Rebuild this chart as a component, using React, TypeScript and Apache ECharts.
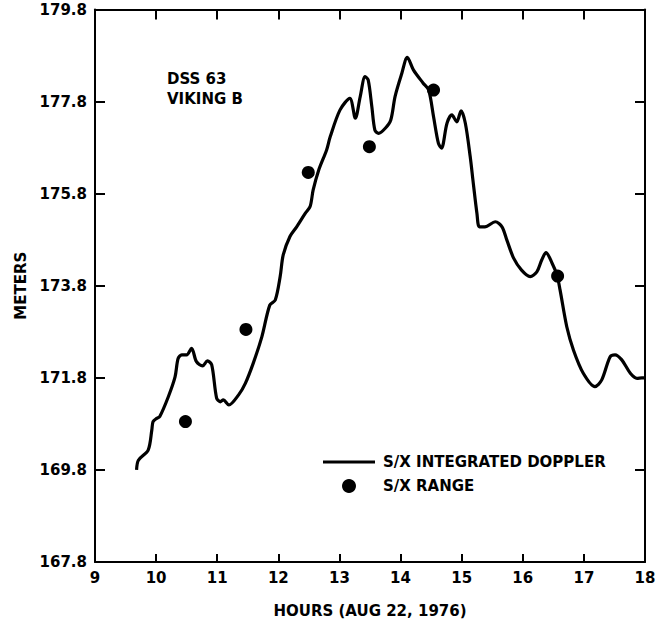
import React, { useEffect, useRef } from "react";
import * as echarts from "echarts";

const Y_BASE = 167.8;

const hourTicks = [9, 10, 11, 12, 13, 14, 15, 16, 17, 18];
const meterTicks = [167.8, 169.8, 171.8, 173.8, 175.8, 177.8, 179.8];

const dopplerHours = [
  9.68, 9.71, 9.87, 9.93, 9.95, 10.01, 10.06, 10.2, 10.31, 10.36, 10.42, 10.5, 10.58, 10.66, 10.76,
  10.84, 10.91, 10.99, 11.05, 11.1, 11.19, 11.35, 11.46, 11.59, 11.73, 11.86, 11.95, 12.03, 12.08,
  12.19, 12.3, 12.44, 12.52, 12.57, 12.66, 12.79, 12.85, 13.01, 13.17, 13.26, 13.34, 13.42, 13.47,
  13.53, 13.58, 13.64, 13.75, 13.84, 13.91, 14.02, 14.11, 14.21, 14.37, 14.46, 14.54, 14.62, 14.67,
  14.76, 14.84, 14.92, 14.99, 15.06, 15.14, 15.19, 15.25, 15.29, 15.38, 15.55, 15.66, 15.74, 15.85,
  15.98, 16.12, 16.23, 16.31, 16.38, 16.48, 16.56, 16.61, 16.72, 16.83, 16.99, 17.18, 17.29, 17.43,
  17.51, 17.62, 17.76, 17.87, 17.95, 18.0,
];

const dopplerMeters = [
  169.8, 170.01, 170.23, 170.67, 170.85, 170.92, 170.96, 171.39, 171.82, 172.22, 172.3, 172.3, 172.44,
  172.15, 172.06, 172.17, 172.08, 171.36, 171.28, 171.32, 171.21, 171.43, 171.68, 172.12, 172.69,
  173.38, 173.49, 174.0, 174.47, 174.87, 175.08, 175.37, 175.52, 175.88, 176.31, 176.75, 177.04,
  177.62, 177.87, 177.44, 177.91, 178.34, 178.27, 177.69, 177.18, 177.11, 177.22, 177.4, 177.91,
  178.41, 178.76, 178.49, 178.2, 178.05, 177.47, 176.89, 176.79, 177.33, 177.51, 177.36, 177.6,
  177.33, 176.6, 176.03, 175.37, 175.08, 175.08, 175.19, 175.08, 174.79, 174.4, 174.14, 174.0,
  174.1, 174.36, 174.52, 174.29, 174.03, 173.71, 172.91, 172.4, 171.9, 171.61, 171.75, 172.26,
  172.3, 172.19, 171.9, 171.79, 171.8, 171.8,
];

const rangeHours = [10.48, 11.47, 12.49, 13.49, 14.54, 16.57];
const rangeMeters = [170.85, 172.85, 176.26, 176.82, 178.05, 174.01];

const FONT = "DejaVu Sans";
const FW = "bold";
const FS = 15;

export default function App() {
  const ref = useRef<HTMLDivElement>(null);

  useEffect(() => {
    if (!ref.current) return;
    const chart = echarts.init(ref.current, null, { renderer: "svg" });

    const lineData = dopplerHours.map((h, i) => [h, dopplerMeters[i] - Y_BASE]);
    const dotData = rangeHours.map((h, i) => [h, rangeMeters[i] - Y_BASE]);

    const yMax = meterTicks[meterTicks.length - 1] - Y_BASE;

    const textBase = { fontFamily: FONT, fontSize: FS, fontWeight: FW, color: "#000" };

    const xCommon = {
      type: "value" as const,
      min: hourTicks[0],
      max: hourTicks[hourTicks.length - 1],
      interval: 1,
      splitLine: { show: false },
      axisLine: { show: true, onZero: false, lineStyle: { color: "#000", width: 2 } },
    };
    const yCommon = {
      type: "value" as const,
      min: 0,
      max: yMax,
      interval: 2,
      splitLine: { show: false },
      axisLine: { show: true, onZero: false, lineStyle: { color: "#000", width: 2 } },
    };

    chart.setOption({
      animation: false,
      backgroundColor: "#fff",
      grid: { left: 95, right: 14, top: 9.5, bottom: 57, containLabel: false, outerBoundsMode: "none" },
      legend: {
        orient: "vertical",
        left: 323,
        top: 454,
        padding: 0,
        itemGap: 8,
        itemWidth: 52,
        itemHeight: 14,
        textStyle: { ...textBase, lineHeight: 16, padding: [0, 0, 0, 3] },
        data: [
          {
            name: "S/X INTEGRATED DOPPLER",
            icon: "path://M0,0L0,0M52,14L52,14M0,5.5L52,5.5L52,8.5L0,8.5Z",
          },
          { name: "S/X RANGE", icon: "circle" },
        ],
      },
      xAxis: [
        {
          ...xCommon,
          position: "bottom",
          name: "HOURS (AUG 22, 1976)",
          nameLocation: "middle",
          nameGap: 41,
          nameTextStyle: textBase,
          axisTick: { show: true, inside: true, length: 8, lineStyle: { color: "#000", width: 2 } },
          axisLabel: { ...textBase, margin: 8 },
        },
        {
          ...xCommon,
          position: "top",
          axisTick: { show: true, inside: true, length: 10, lineStyle: { color: "#000", width: 2 } },
          axisLabel: { show: false },
        },
      ],
      yAxis: [
        {
          ...yCommon,
          position: "left",
          name: "METERS",
          nameLocation: "middle",
          nameGap: 67,
          nameTextStyle: textBase,
          axisTick: { show: true, inside: true, length: 10, lineStyle: { color: "#000", width: 2 } },
          axisLabel: {
            ...textBase,
            margin: 8,
            formatter: (v: number) => (v + Y_BASE).toFixed(1),
          },
        },
        {
          ...yCommon,
          position: "right",
          axisTick: { show: true, inside: true, length: 10, lineStyle: { color: "#000", width: 2 } },
          axisLabel: { show: false },
        },
      ],
      graphic: [
        {
          type: "text",
          left: 167,
          top: 69,
          style: {
            text: "DSS 63\nVIKING B",
            fontFamily: FONT,
            fontSize: FS,
            fontWeight: FW,
            lineHeight: 20,
            fill: "#000",
          },
        },
      ],
      series: [
        {
          name: "S/X INTEGRATED DOPPLER",
          type: "line",
          data: lineData,
          smooth: 0.3,
          showSymbol: false,
          symbol: "none",
          lineStyle: { color: "#000", width: 3.2 },
          itemStyle: { color: "#000" },
          z: 2,
        },
        {
          name: "S/X RANGE",
          type: "scatter",
          data: dotData,
          symbol: "circle",
          symbolSize: 13,
          itemStyle: { color: "#000", opacity: 1 },
          z: 3,
        },
      ],
    });

    return () => chart.dispose();
  }, []);

  return (
    <div
      ref={ref}
      style={{ position: "fixed", left: 0, top: 0, width: 659, height: 619, background: "#fff" }}
    />
  );
}
